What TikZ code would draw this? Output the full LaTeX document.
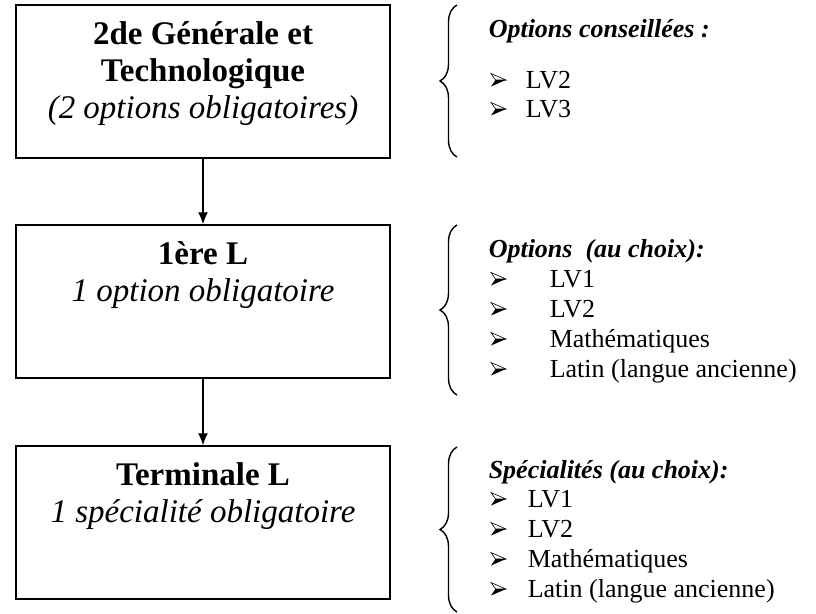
\documentclass[tikz,border=0pt]{standalone}
\usepackage{fontspec}
\setmainfont{Liberation Serif}
\usetikzlibrary{arrows.meta,positioning,decorations.pathreplacing}

\newcommand{\bigsize}{\fontsize{33}{37}\selectfont}
\newcommand{\smallsize}{\fontsize{26}{30}\selectfont}

\begin{document}
\begin{tikzpicture}[x=1pt,y=-1pt,>={Latex[length=12pt,width=10pt]},line width=1.5pt]
\tikzset{
	stagebox/.style={draw,minimum width=374pt,minimum height=153pt,inner sep=0pt},
	stagetext/.style={align=center,inner sep=0pt,font=\bigsize},
	bracedeco/.style={decorate,decoration={brace,amplitude=17pt},line width=1.4pt},
	listtext/.style={anchor=base west,inner sep=0pt,font=\smallsize},
	listarrow/.pic={
		\draw[line width=0.6pt,line join=miter] (0,-6.5) -- (15,0) -- (4.5,0) -- cycle;
		\fill (4.5,0) -- (15,0) -- (0,6.5) -- cycle;
	}
}
\useasboundingbox (0,0) rectangle (816,613);

% the three years
	\node[stagebox] (sec) at (203,81.5) {};
	\node[stagebox] (pre) at (203,301.5) {};
	\node[stagebox] (ter) at (203,522.5) {};
	\node[stagetext,below=17pt of sec.north] (sect)
		{\textbf{2de Générale et}\\\textbf{Technologique}\\\textit{(2 options obligatoires)}};
	\node[stagetext,below=17pt of pre.north] (pret)
		{\textbf{1ère L}\\\textit{1 option obligatoire}};
	\node[stagetext,below=17pt of ter.north] (tert)
		{\textbf{Terminale L}\\\textit{1 spécialité obligatoire}};
	\draw[->,line width=1.3pt] (sec) -- (pre);
	\draw[->,line width=1.3pt] (pre) -- (ter);

% braces
	\draw[bracedeco] (457,157) -- (457,5);
	\draw[bracedeco] (457,395) -- (457,225);
	\draw[bracedeco] (457,612) -- (457,447);

% options
	\node[listtext] (opth) at (488,37) {\textbf{\textit{Options conseillées :}}};
	\foreach \txt [count=\i] in {LV2,LV3}{
		\pic at (491,{51+29*\i}) {listarrow};
		\node[listtext] (opt\i) at (525,{59+29*\i}) {\txt};
	}
	\node[listtext] (choh) at (488,257) {\textbf{\textit{Options~~(au choix):}}};
	\foreach \txt [count=\i] in {LV1,LV2,Mathématiques,Latin (langue ancienne)}{
		\pic at (491,{249+30*\i}) {listarrow};
		\node[listtext] (cho\i) at (549,{257+30*\i}) {\txt};
	}
	\node[listtext] (speh) at (488,478) {\textbf{\textit{Spécialités (au choix):}}};
	\foreach \txt [count=\i] in {LV1,LV2,Mathématiques,Latin (langue ancienne)}{
		\pic at (491,{469+30*\i}) {listarrow};
		\node[listtext] (spe\i) at (527,{477+30*\i}) {\txt};
	}
\end{tikzpicture}
\end{document}
